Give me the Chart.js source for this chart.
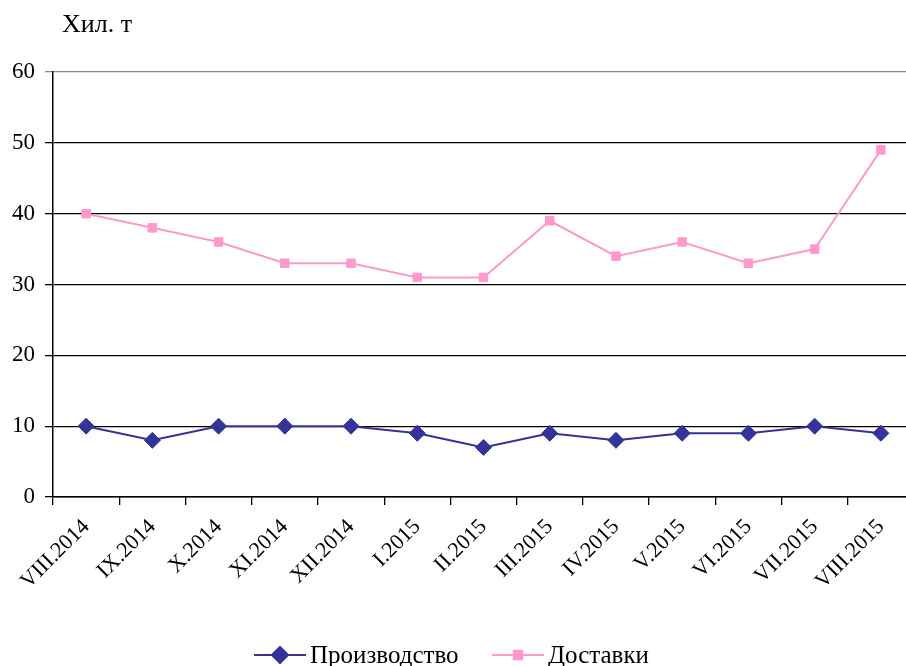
<!DOCTYPE html>
<html>
<head>
<meta charset="utf-8">
<script src="https://cdn.jsdelivr.net/npm/chart.js@4/dist/chart.umd.min.js"></script>
<style>
  html, body { margin: 0; padding: 0; background: #fff; overflow: hidden; }
</style>
</head>
<body>
<canvas id="chart" width="923" height="666"></canvas>
<script>
const months = ['VIII.2014', 'IX.2014', 'X.2014', 'XI.2014', 'XII.2014', 'I.2015', 'II.2015',
    'III.2015', 'IV.2015', 'V.2015', 'VI.2015', 'VII.2015', 'VIII.2015'];
const production = [10, 8, 10, 10, 10, 9, 7, 9, 8, 9, 9, 10, 9];
const deliveries = [40, 38, 36, 33, 33, 31, 31, 39, 34, 36, 33, 35, 49];
const unitLabel = 'Хил. т';
const seriesNames = ['Производство', 'Доставки'];

const navy = '#333399';
const pink = '#ff99cc';
const font = '"Liberation Serif", "Times New Roman", serif';

// axis caption and bottom legend (line + marker like the original)
const extras = {
    id: 'extras',
    afterDraw(chart) {
        const ctx = chart.ctx;
        ctx.save();
        ctx.fillStyle = '#000';
        ctx.font = '26px ' + font;
        ctx.textBaseline = 'alphabetic';
        ctx.fillText(unitLabel, 62, 32);

        const y = 655;
        const items = [
            { x: 254, color: navy, style: 'rectRot', r: 8, text: seriesNames[0] },
            { x: 492, color: pink, style: 'rect', r: 6, text: seriesNames[1] }
        ];
        ctx.font = '25px ' + font;
        ctx.textBaseline = 'middle';
        items.forEach(it => {
            ctx.strokeStyle = it.color;
            ctx.lineWidth = 2;
            ctx.beginPath();
            ctx.moveTo(it.x, y);
            ctx.lineTo(it.x + 52, y);
            ctx.stroke();
            ctx.fillStyle = it.color;
            Chart.helpers.drawPoint(ctx, { pointStyle: it.style, radius: it.r, borderWidth: 1 }, it.x + 26, y);
            ctx.fillStyle = '#000';
            ctx.fillText(it.text, it.x + 56, y + 1);
        });
        ctx.restore();
    }
};

new Chart(document.getElementById('chart'), {
    type: 'line',
    data: {
        labels: months,
        datasets: [{
            label: seriesNames[0],
            data: production,
            borderColor: navy,
            backgroundColor: navy,
            borderWidth: 2,
            pointStyle: 'rectRot',
            pointRadius: 8,
            pointBorderWidth: 1,
            tension: 0
        }, {
            label: seriesNames[1],
            data: deliveries,
            borderColor: pink,
            backgroundColor: pink,
            borderWidth: 2,
            pointStyle: 'rect',
            pointRadius: 6,
            pointBorderWidth: 1,
            tension: 0
        }]
    },
    options: {
        responsive: false,
        animation: false,
        layout: { padding: { top: 72, right: 0, left: 0, bottom: 0 } },
        plugins: {
            legend: { display: false },
            tooltip: { enabled: false }
        },
        scales: {
            x: {
                offset: true,
                afterFit: function (scale) {
                    scale.height = 169;
                    scale.paddingLeft = 0;
                    scale.paddingRight = 0;
                },
                grid: {
                    offset: true,
                    drawOnChartArea: false,
                    color: '#000',
                    lineWidth: 1.3,
                    tickLength: 8
                },
                border: { color: '#000', width: 1.5 },
                ticks: {
                    color: '#000',
                    font: { family: font, size: 22 },
                    maxRotation: 45,
                    minRotation: 45,
                    autoSkip: false,
                    padding: 9
                }
            },
            y: {
                min: 0,
                max: 60,
                afterFit: function (scale) {
                    scale.width = 53;
                    scale.paddingTop = 0;
                    scale.paddingBottom = 0;
                },
                grid: {
                    color: ctx => ctx.tick && ctx.tick.value === 60 ? '#888' : '#000',
                    lineWidth: 1.3,
                    tickLength: 8
                },
                border: { color: '#000', width: 1.5 },
                ticks: {
                    stepSize: 10,
                    color: '#000',
                    font: { family: font, size: 23 },
                    padding: 10
                }
            }
        }
    },
    plugins: [extras]
});
</script>
</body>
</html>
